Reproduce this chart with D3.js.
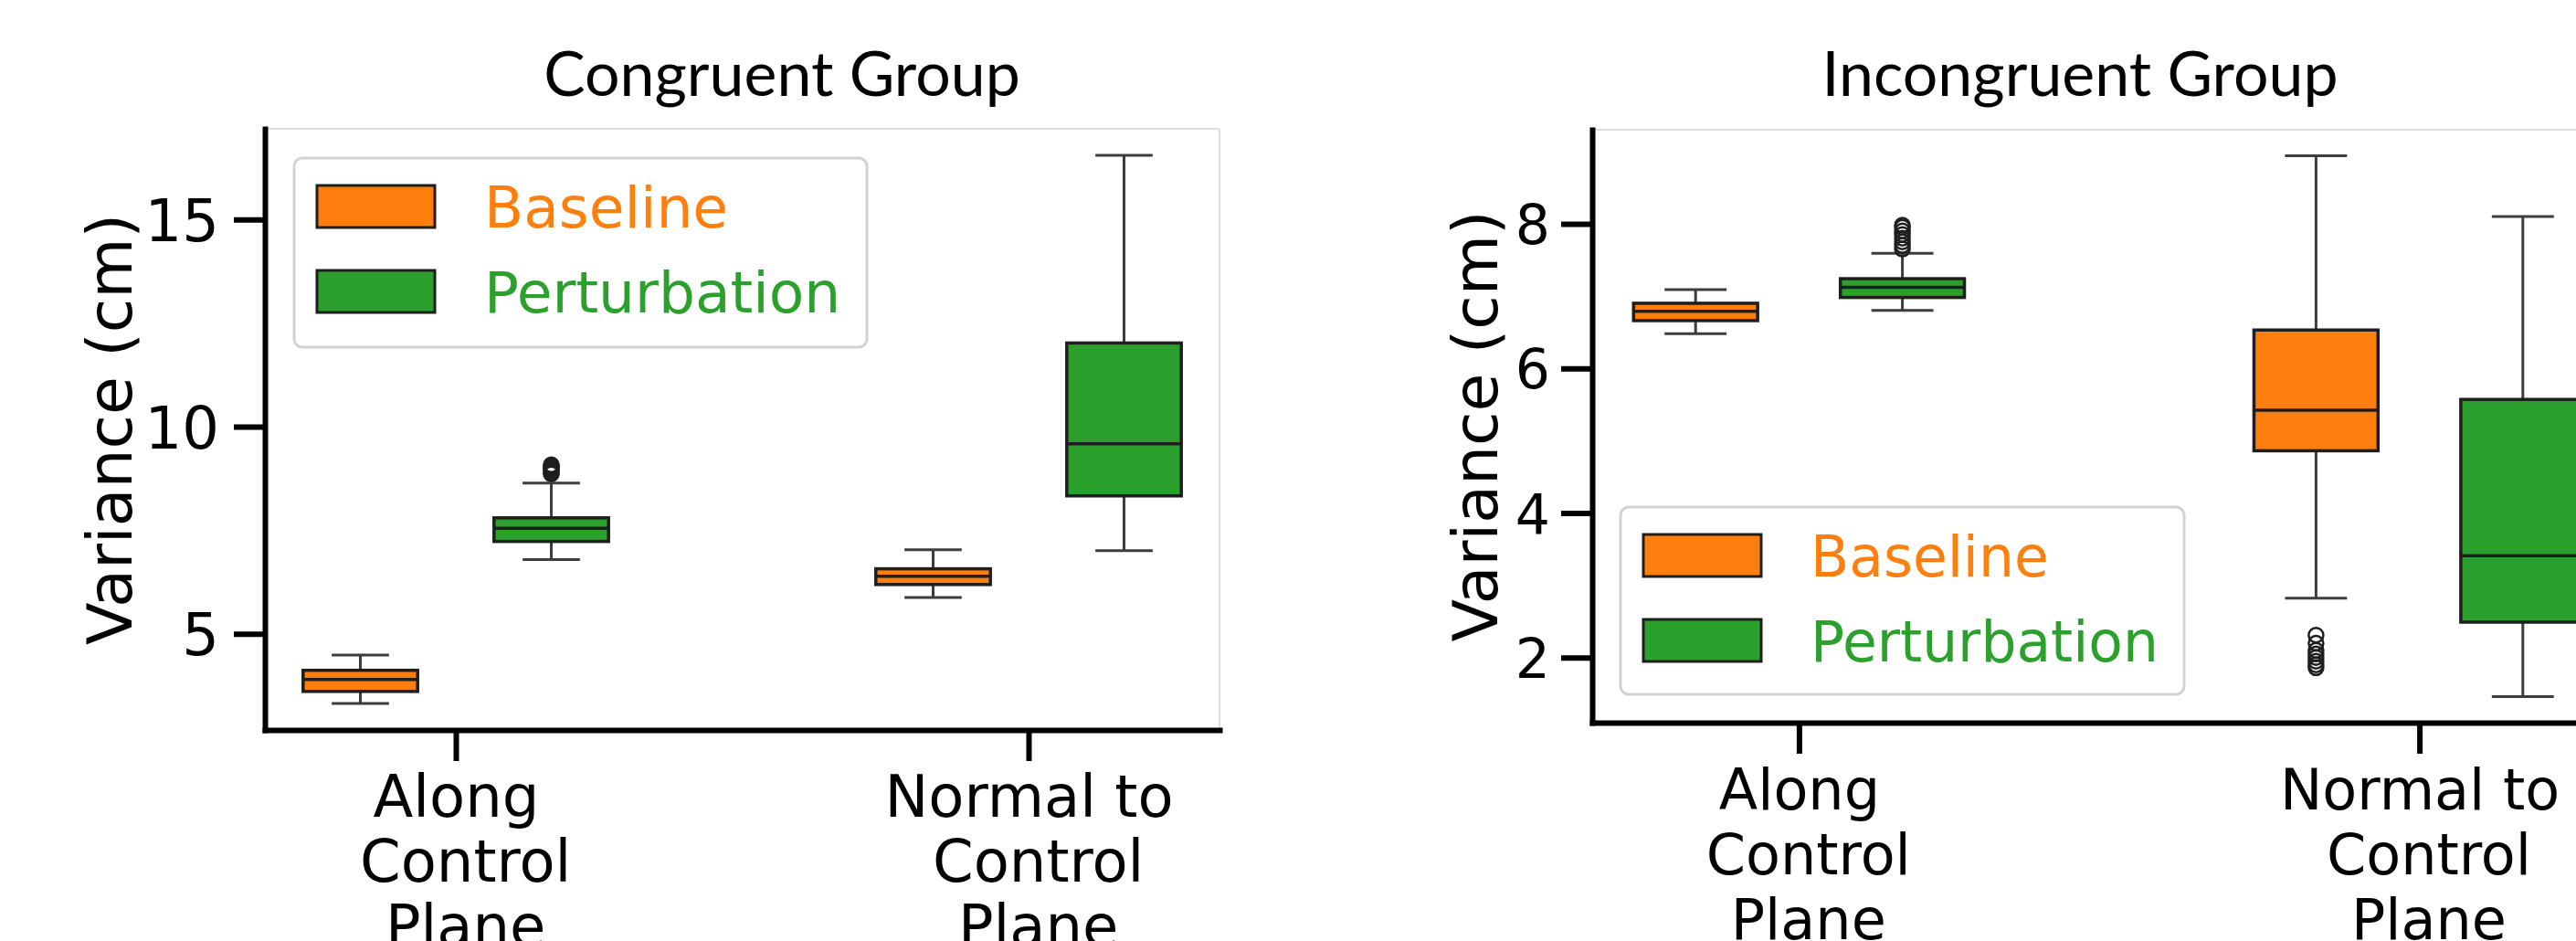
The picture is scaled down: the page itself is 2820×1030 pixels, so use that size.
<!DOCTYPE html>
<html>
<head>
<meta charset="utf-8">
<script src="https://cdn.jsdelivr.net/npm/d3@7"></script>
<style>
  body { margin: 0; background: #fff; }
  svg { display: block; }
</style>
</head>
<body>
<svg id="chart" width="2820" height="1030"></svg>
<script>
// categories on the x axis, legend entries
const categories = ["Along\n Control\n Plane", "Normal to\n Control\n Plane"];
const hues = ["Baseline", "Perturbation"];
const hueColors = ["#ff7f0e", "#2ca02c"];

// box stats per category: [lower whisker, Q1, median, Q3, upper whisker]
const congruentBaseline = [[3.32, 3.61, 3.90, 4.12, 4.49], [5.88, 6.19, 6.39, 6.57, 7.03]];
const congruentPerturbation = [[6.79, 7.23, 7.55, 7.80, 8.64], [7.01, 8.33, 9.59, 12.02, 16.55]];
const congruentBaselineOutliers = [[], []];
const congruentPerturbationOutliers = [[8.86, 8.90, 8.94, 8.98, 9.02, 9.05, 9.08], []];

const incongruentBaseline = [[6.48, 6.66, 6.79, 6.90, 7.09], [2.82, 4.86, 5.42, 6.53, 8.94]];
const incongruentPerturbation = [[6.80, 6.98, 7.12, 7.24, 7.59], [1.46, 2.49, 3.41, 5.57, 8.10]];
const incongruentBaselineOutliers = [[], [1.86, 1.90, 1.95, 2.00, 2.05, 2.10, 2.20, 2.31]];
const incongruentPerturbationOutliers = [[7.65, 7.70, 7.75, 7.80, 7.85, 7.90, 7.95, 7.98], []];

const congruentTicks = [5, 10, 15];
const incongruentTicks = [2, 4, 6, 8];

const panels = [
  {
    title: "Congruent Group", titleX: 856,
    left: 290, right: 1335, top: 141, bottom: 799,
    yDomain: [2.68, 17.19], ticks: congruentTicks,
    stats: [congruentBaseline, congruentPerturbation],
    outliers: [congruentBaselineOutliers, congruentPerturbationOutliers],
    tickFont: 64, tickPad: 16, xFont: 64, labelX: 144,
    legend: { x: 322, y: 173, w: 627, h: 207, font: 63 }
  },
  {
    title: "Incongruent Group", titleX: 2277,
    left: 1743, right: 2875, top: 142, bottom: 791,
    yDomain: [1.10, 9.30], ticks: incongruentTicks,
    stats: [incongruentBaseline, incongruentPerturbation],
    outliers: [incongruentBaselineOutliers, incongruentPerturbationOutliers],
    tickFont: 60, tickPad: 12, xFont: 62, labelX: 1639,
    legend: { x: 1774, y: 555, w: 617, h: 205, font: 61.5 }
  }
];

const svg = d3.select("#chart");
svg.append("rect").attr("width", 2820).attr("height", 1030).attr("fill", "#fff");

const font = "'DejaVu Sans', sans-serif";
const hueOffset = [-1 / 6, 1 / 6];
const boxHalf = 0.1;
const capHalf = 0.05;

panels.forEach(p => {
  const x = d3.scaleLinear().domain([-1 / 3, 4 / 3]).range([p.left, p.right]);
  const y = d3.scaleLinear().domain(p.yDomain).range([p.bottom, p.top]);
  const g = svg.append("g");

  // light frame on top / right
  g.append("line")
    .attr("x1", p.left).attr("x2", p.right).attr("y1", p.top).attr("y2", p.top)
    .attr("stroke", "#dcdcdc").attr("stroke-width", 2);
  g.append("line")
    .attr("x1", p.right).attr("x2", p.right).attr("y1", p.top).attr("y2", p.bottom)
    .attr("stroke", "#dcdcdc").attr("stroke-width", 2);

  // boxes
  p.stats.forEach((series, h) => {
    series.forEach((s, c) => {
      const [lo, q1, med, q3, hi] = s;
      const cx = x(c + hueOffset[h]);
      const bx0 = x(c + hueOffset[h] - boxHalf);
      const bx1 = x(c + hueOffset[h] + boxHalf);
      const kx0 = x(c + hueOffset[h] - capHalf);
      const kx1 = x(c + hueOffset[h] + capHalf);
      const b = g.append("g");
      b.append("line").attr("x1", cx).attr("x2", cx).attr("y1", y(lo)).attr("y2", y(q1))
        .attr("stroke", "#3d3d3d").attr("stroke-width", 3);
      b.append("line").attr("x1", cx).attr("x2", cx).attr("y1", y(q3)).attr("y2", y(hi))
        .attr("stroke", "#3d3d3d").attr("stroke-width", 3);
      b.append("line").attr("x1", kx0).attr("x2", kx1).attr("y1", y(lo)).attr("y2", y(lo))
        .attr("stroke", "#3d3d3d").attr("stroke-width", 3);
      b.append("line").attr("x1", kx0).attr("x2", kx1).attr("y1", y(hi)).attr("y2", y(hi))
        .attr("stroke", "#3d3d3d").attr("stroke-width", 3);
      b.append("rect")
        .attr("x", bx0).attr("y", y(q3))
        .attr("width", bx1 - bx0).attr("height", y(q1) - y(q3))
        .attr("fill", hueColors[h]).attr("stroke", "#1e1e1e").attr("stroke-width", 3.5);
      b.append("line").attr("x1", bx0).attr("x2", bx1).attr("y1", y(med)).attr("y2", y(med))
        .attr("stroke", "#1e1e1e").attr("stroke-width", 3.5);
      b.selectAll("circle")
        .data(p.outliers[h][c])
        .join("circle")
        .attr("cx", cx).attr("cy", d => y(d)).attr("r", 8)
        .attr("fill", "none").attr("stroke", "#1e1e1e").attr("stroke-width", 2.5);
    });
  });

  // y axis
  const yAxis = g.append("g")
    .attr("transform", `translate(${p.left},0)`)
    .call(d3.axisLeft(y).tickValues(p.ticks).tickSize(34).tickPadding(p.tickPad).tickSizeOuter(0));
  yAxis.select(".domain").attr("stroke", "#000").attr("stroke-width", 6).attr("stroke-linecap", "square");
  yAxis.selectAll(".tick line").attr("stroke", "#000").attr("stroke-width", 6);
  yAxis.selectAll(".tick text")
    .attr("fill", "#000").attr("font-family", font).attr("font-size", p.tickFont)
    .attr("dy", "0.36em");
  yAxis.attr("font-family", null).attr("font-size", null);

  // x axis
  const xAxis = g.append("g")
    .attr("transform", `translate(0,${p.bottom})`)
    .call(d3.axisBottom(x).tickValues([0, 1]).tickSize(34).tickSizeOuter(0).tickFormat(""));
  xAxis.select(".domain").attr("stroke", "#000").attr("stroke-width", 6).attr("stroke-linecap", "square");
  xAxis.selectAll(".tick line").attr("stroke", "#000").attr("stroke-width", 6);
  xAxis.selectAll(".tick text").each(function (d) {
    const t = d3.select(this)
      .attr("y", 95).attr("dy", null)
      .attr("fill", "#000").attr("font-family", font).attr("font-size", p.xFont)
      .style("white-space", "pre");
    categories[d].split("\n").forEach((line, i) => {
      t.append("tspan").attr("x", 0).attr("dy", i === 0 ? 0 : 71).text(line);
    });
  });

  // y label
  g.append("text")
    .attr("transform", `translate(${p.labelX},${(p.top + p.bottom) / 2}) rotate(-90)`)
    .attr("text-anchor", "middle")
    .attr("font-family", font).attr("font-size", 68).attr("fill", "#000")
    .text("Variance (cm)");

  // title
  g.append("text")
    .attr("x", p.titleX).attr("y", 105)
    .attr("text-anchor", "middle")
    .attr("font-family", "Lato, 'Open Sans', sans-serif").attr("font-size", 68).attr("fill", "#000")
    .text(p.title);

  // legend
  const L = p.legend;
  const lg = g.append("g").attr("transform", `translate(${L.x},${L.y})`);
  lg.append("rect")
    .attr("width", L.w).attr("height", L.h).attr("rx", 9)
    .attr("fill", "#fff").attr("fill-opacity", 0.85)
    .attr("stroke", "#d2d2d2").attr("stroke-width", 3);
  hues.forEach((name, i) => {
    const rowBase = 76 + i * 93;
    lg.append("rect")
      .attr("x", 25).attr("y", rowBase - 46).attr("width", 129).attr("height", 46)
      .attr("fill", hueColors[i]).attr("stroke", "#1e1e1e").attr("stroke-width", 3);
    lg.append("text")
      .attr("x", 208).attr("y", rowBase)
      .attr("font-family", font).attr("font-size", L.font).attr("fill", hueColors[i])
      .text(name);
  });
});
</script>
</body>
</html>
